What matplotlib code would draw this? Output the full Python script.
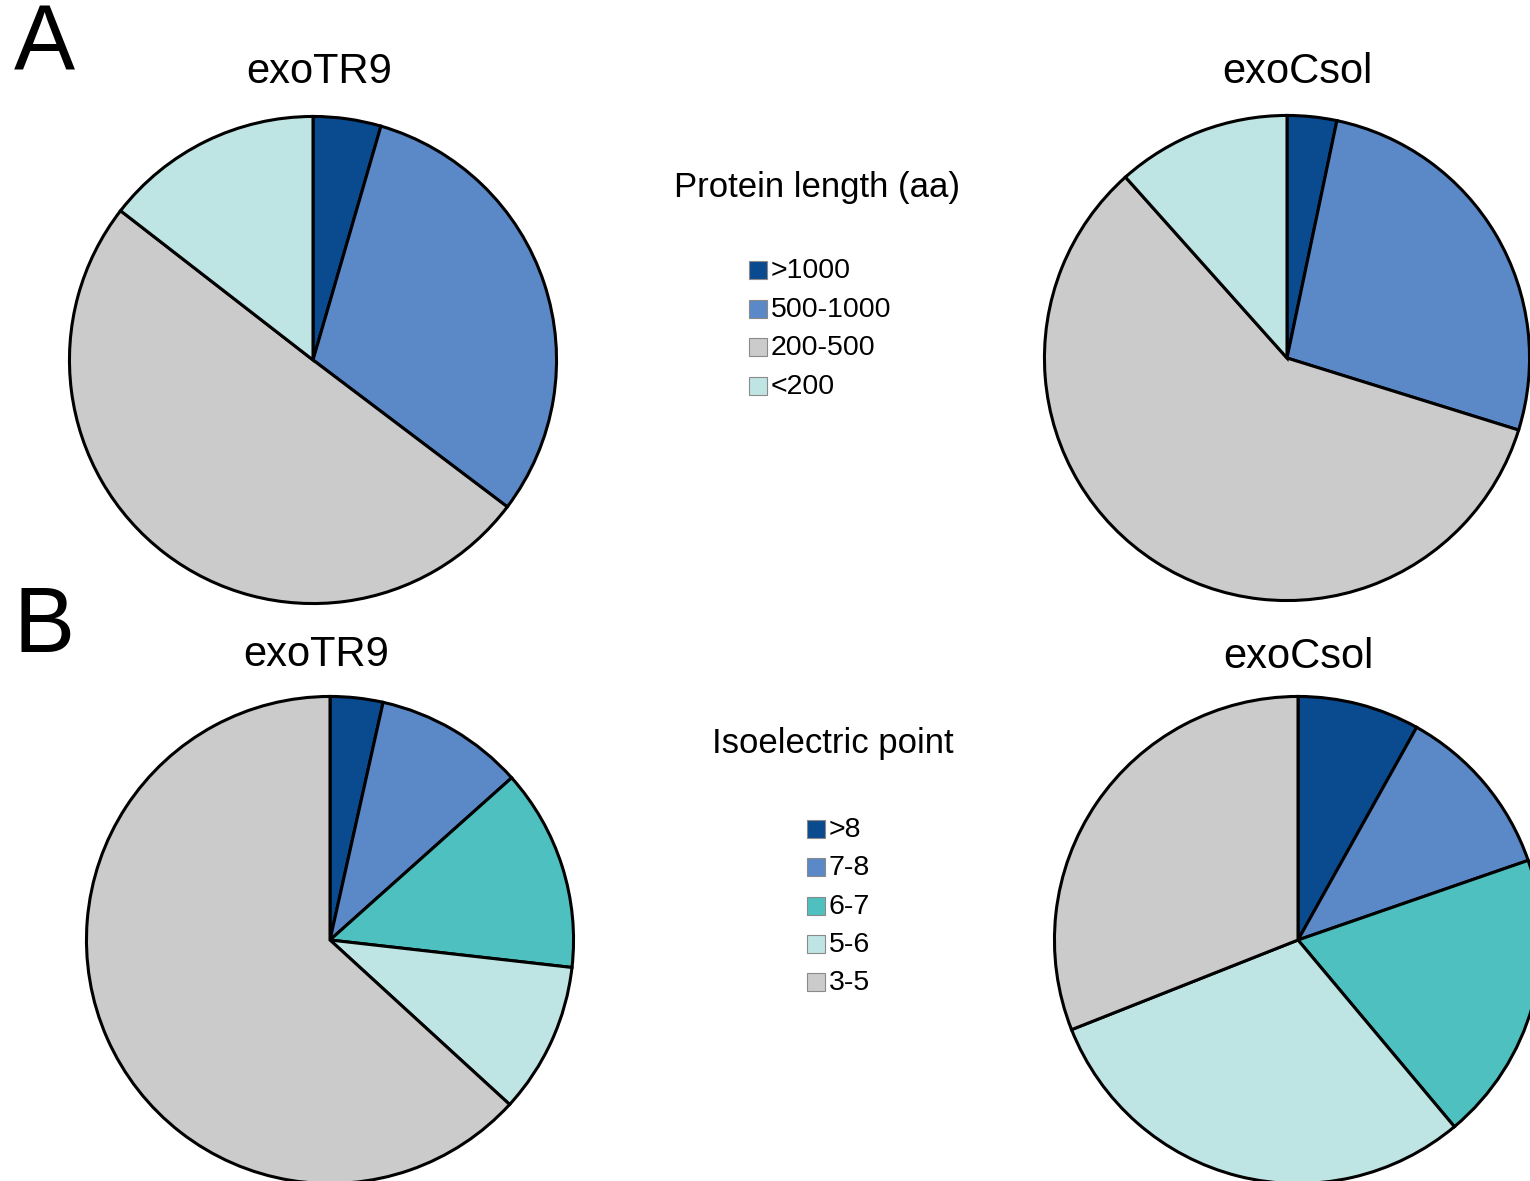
import matplotlib
matplotlib.use("Agg")
import matplotlib.pyplot as plt
from matplotlib.patches import Rectangle

plt.rcParams['font.family'] = ['Liberation Sans', 'DejaVu Sans']

# ---- data ----
length_categories = [">1000", "500-1000", "200-500", "<200"]
length_exoTR9 = [4.5, 30.8, 50.2, 14.5]
length_exoCsol = [3.3, 26.5, 58.6, 11.6]
length_colors = ["#0a4a8e", "#5b88c6", "#cbcbcb", "#bfe4e4"]

pi_categories = [">8", "7-8", "6-7", "5-6", "3-5"]
pi_exoTR9 = [3.5, 9.9, 13.4, 10.0, 63.2]
pi_exoCsol = [8.1, 11.6, 19.2, 30.1, 31.0]
pi_colors = ["#0a4a8e", "#5b88c6", "#4fc0c0", "#bfe4e4", "#cbcbcb"]

W, H = 1530, 1181
fig = plt.figure(figsize=(W / 100, H / 100), dpi=100)


def pie_ax(cx, cy, r):
    ax = fig.add_axes([(cx - r) / W, (H - cy - r) / H, 2 * r / W, 2 * r / H])
    return ax


def draw_pie(ax, vals, colors):
    wedges, _ = ax.pie(vals, colors=colors, startangle=90, counterclock=False,
                       radius=0.99,
                       wedgeprops=dict(edgecolor='black', linewidth=2.2))
    for w in wedges:
        w.set_clip_on(False)
    ax.set_xlim(-1.0, 1.0)
    ax.set_ylim(-1.0, 1.0)
    ax.set_aspect('equal')
    ax.axis('off')


ax1 = pie_ax(313, 360, 246)
draw_pie(ax1, length_exoTR9, length_colors)
ax2 = pie_ax(1287, 358, 245)
draw_pie(ax2, length_exoCsol, length_colors)
ax3 = pie_ax(330, 940, 246)
draw_pie(ax3, pi_exoTR9, pi_colors)
ax4 = pie_ax(1298, 940, 246)
draw_pie(ax4, pi_exoCsol, pi_colors)

# overlay for text & legends in pixel coords
ov = fig.add_axes([0, 0, 1, 1], zorder=5)
ov.set_xlim(0, W)
ov.set_ylim(H, 0)
ov.axis('off')
ov.patch.set_alpha(0)

ov.text(44, 46, "A", fontsize=66, ha='center', va='center')
ov.text(44, 628, "B", fontsize=66, ha='center', va='center')

for x, y, t in [(319, 72, "exoTR9"), (1297, 72, "exoCsol"),
                (316, 655, "exoTR9"), (1298, 657, "exoCsol")]:
    ov.text(x, y, t, fontsize=30, ha='center', va='center')

ov.text(817, 187, "Protein length (aa)", fontsize=25, ha='center', va='center')
ov.text(833, 744, "Isoelectric point", fontsize=25, ha='center', va='center')


def legend(x0, y0, dy, cats, colors):
    for i, (c, col) in enumerate(zip(cats, colors)):
        y = y0 + i * dy
        ov.add_patch(Rectangle((x0, y - 9), 18, 18, facecolor=col,
                               edgecolor='#8a8a8a', linewidth=0.8))
        ov.text(x0 + 22, y + 1, c, fontsize=20.5, ha='left', va='center')


legend(749, 270, 38.7, length_categories, length_colors)
legend(807, 829, 38.3, pi_categories, pi_colors)

fig.savefig("out.png", dpi=100, facecolor='white')
